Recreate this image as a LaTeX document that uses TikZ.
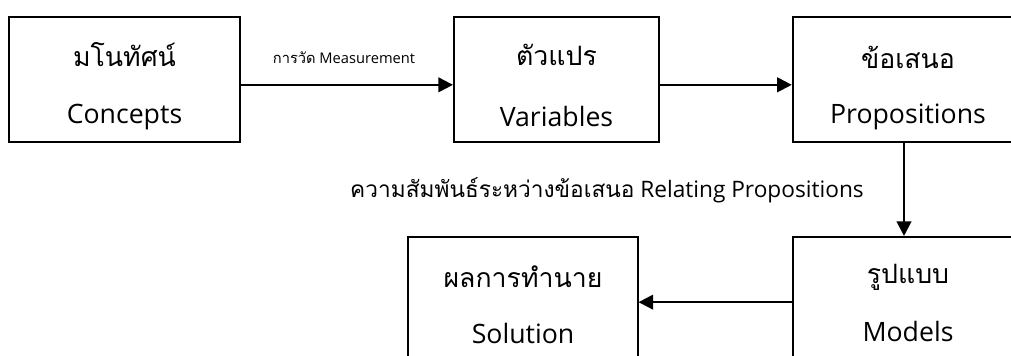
\documentclass[tikz,border=0pt]{standalone}
\usepackage{fontspec}
\setmainfont{Open Sans}
\newfontfamily\thaifont[Script=Thai]{Loma}
\usetikzlibrary{arrows.meta}
\begin{document}
\begin{tikzpicture}[x=0.75pt, y=-0.75pt, box/.style={draw, rectangle, line width=1.3pt, minimum height=94pt},
					link/.style={-{Triangle[length=11pt,width=11pt]}, line width=1.6pt},
					word/.style={inner sep=0pt, font=\fontsize{20}{24}\selectfont},
					thword/.style={inner sep=0pt, font=\fontsize{20}{24}\selectfont\thaifont},
					note/.style={inner sep=0pt, font=\fontsize{17}{20}\selectfont},
					tiny/.style={inner sep=0pt, font=\fontsize{11}{13}\selectfont}]

					\useasboundingbox (0,0) rectangle (1011,356);
					\clip (0,0) rectangle (1011,356);

					\node[box, minimum width=173pt] (con) at (124.5,79.5) {};
					\node[box, minimum width=154pt] (var) at (556.5,79.5) {};
					\node[box, minimum width=170pt] (pro) at (906,79.5) {};
					\node[box, minimum width=170pt] (mod) at (906,299.5) {};
					\node[box, minimum width=172pt] (sol) at (523,299.5) {};

					\draw[link] ([yshift=-4pt]con.east) to ([yshift=-4pt]var.west);
					\draw[link] ([yshift=-4pt]var.east) to ([yshift=-4pt]pro.west);
					\draw[link] ([xshift=-1.5pt]pro.south) to ([xshift=-1.5pt]mod.north);
					\draw[link] ([yshift=-2pt]mod.west) to ([yshift=-2pt]sol.east);

					\node[thword] (con-th) at (124.5,55) {มโนทัศน์};
					\node[word] (con-en) at (124.5,117) {Concepts};
					\node[thword] (var-th) at (556.5,55) {ตัวแปร};
					\node[word] (var-en) at (556.5,117) {Variables};
					\node[thword] (pro-th) at (908,57) {ข้อเสนอ};
					\node[word] (pro-en) at (908,117) {Propositions};
					\node[thword] (mod-th) at (908,277) {รูปแบบ};
					\node[word] (mod-en) at (908,331) {Models};
					\node[thword] (sol-th) at (523,277) {ผลการทำนาย};
					\node[word] (sol-en) at (523,334) {Solution};

					\node[tiny] (meas) at (344,58) {{\thaifont การวัด} Measurement};
					\node[note] (rel) at (607,190) {{\thaifont ความสัมพันธ์ระหว่างข้อเสนอ} Relating Propositions};
				\end{tikzpicture}
\end{document}
